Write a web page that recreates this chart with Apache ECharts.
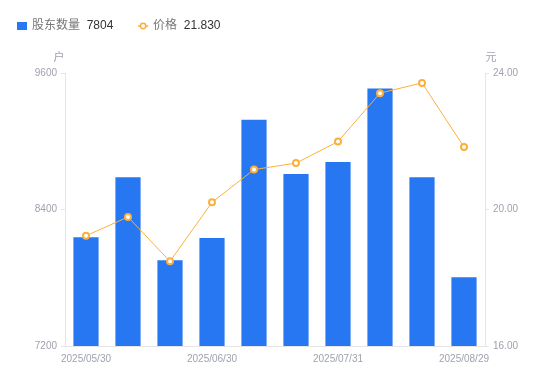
<!DOCTYPE html>
<html>
<head>
<meta charset="utf-8">
<script src="https://cdn.jsdelivr.net/npm/echarts@6/dist/echarts.min.js"></script>
<style>
  html, body { margin: 0; padding: 0; background: #fff; }
  #main { width: 550px; height: 381px; }
</style>
</head>
<body>
<div id="main"></div>
<script>
var dates = ['2025/05/30', '2025/06/10', '2025/06/20', '2025/06/30', '2025/07/10',
             '2025/07/20', '2025/07/31', '2025/08/10', '2025/08/20', '2025/08/29'];
var holders = [8155, 8684, 7954, 8149, 9190, 8713, 8817, 9463, 8684, 7804];
var prices = [19.23, 19.78, 18.48, 20.21, 21.17, 21.36, 21.99, 23.41, 23.71, 21.83];
var leftTicks = [7200, 9600, 1200];
var rightTicks = [16, 24, 4];

var lastVal = {
    '股东数量': holders[holders.length - 1],
    '价格': prices[prices.length - 1].toFixed(3)
};
var fontFam = '"Liberation Sans", "Noto Sans CJK SC", sans-serif';
var labelColor = '#9fa2ae';
var lineColor = '#e6e6e6';
var barColor = '#2877f2';
var priceColor = '#fbb03b';

// line + hollow circle, like the legend icon of the price line
var lineIcon = 'path://M0,3L2.3,3M7.7,3L10,3M7.7,3A2.7,2.7,0,1,1,2.3,3A2.7,2.7,0,1,1,7.7,3Z';

var option = {
    animation: false,
    textStyle: { fontFamily: fontFam },
    legend: {
        left: 12,
        top: 15,
        itemWidth: 10,
        itemHeight: 8,
        itemGap: 24,
        data: [
            { name: '股东数量', icon: 'rect' },
            { name: '价格', icon: lineIcon,
              itemStyle: { color: '#fff', borderColor: priceColor, borderWidth: 1.5 } }
        ],
        formatter: function (name) {
            return '{n|' + name + '}  {v|' + lastVal[name] + '}';
        },
        textStyle: {
            fontFamily: fontFam,
            rich: {
                n: { fontSize: 12, color: '#777', fontFamily: fontFam },
                v: { fontSize: 12, color: '#333', fontFamily: fontFam }
            }
        }
    },
    grid: { left: 65, right: 65, top: 73, bottom: 35 },
    xAxis: {
        type: 'category',
        data: dates,
        axisLine: { lineStyle: { color: lineColor } },
        axisTick: { show: false },
        axisLabel: { interval: 2, color: labelColor, fontSize: 10, margin: 8 }
    },
    yAxis: [{
        type: 'value',
        name: '户',
        nameGap: 10,
        nameTextStyle: { color: labelColor, fontSize: 11, padding: [0, 12, 0, 0] },
        min: leftTicks[0],
        max: leftTicks[1],
        interval: leftTicks[2],
        splitLine: { show: false },
        axisLine: { show: true, lineStyle: { color: lineColor } },
        axisTick: { show: true, length: 4, lineStyle: { color: lineColor } },
        axisLabel: {
            color: labelColor, fontSize: 10,
            formatter: function (v) { return String(v); }
        }
    }, {
        type: 'value',
        name: '元',
        nameGap: 10,
        nameTextStyle: { color: labelColor, fontSize: 11, padding: [0, 0, 0, 12] },
        min: rightTicks[0],
        max: rightTicks[1],
        interval: rightTicks[2],
        splitLine: { show: false },
        axisLine: { show: true, lineStyle: { color: lineColor } },
        axisTick: { show: true, length: 4, lineStyle: { color: lineColor } },
        axisLabel: {
            color: labelColor, fontSize: 10,
            formatter: function (v) { return v.toFixed(2); }
        }
    }],
    series: [{
        name: '股东数量',
        type: 'bar',
        barWidth: '60%',
        data: holders,
        itemStyle: { color: barColor }
    }, {
        name: '价格',
        type: 'line',
        yAxisIndex: 1,
        data: prices,
        symbol: 'emptyCircle',
        symbolSize: 6,
        lineStyle: { width: 1, color: priceColor },
        itemStyle: { color: priceColor, borderWidth: 2 }
    }]
};

var myCharts = echarts.init(document.getElementById('main'));
myCharts.setOption(option);
</script>
</body>
</html>
